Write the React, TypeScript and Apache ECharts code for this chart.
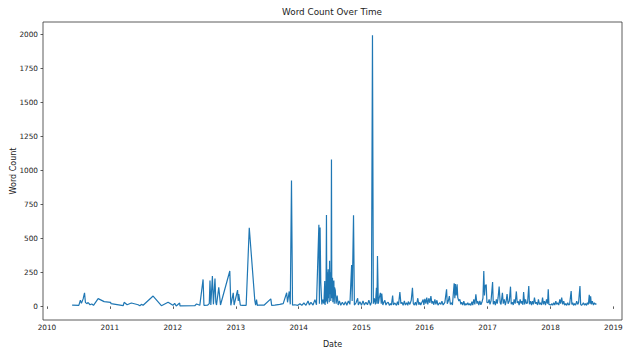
import React, { useEffect, useRef } from 'react';
import * as echarts from 'echarts';

const dates: string[] = [
  '2010-05-27','2010-07-05','2010-07-14','2010-07-20','2010-07-30','2010-08-07','2010-08-12','2010-08-20','2010-08-28','2010-09-08','2010-09-18','2010-09-28','2010-10-25','2010-11-29',
  '2011-01-05','2011-01-08','2011-03-19','2011-03-25','2011-04-11','2011-05-06','2011-06-14','2011-06-24','2011-07-03','2011-07-13','2011-09-09','2011-10-27','2011-12-05',
  '2012-01-02','2012-01-12','2012-01-21','2012-02-10','2012-02-12','2012-05-08','2012-05-18','2012-06-06','2012-06-25','2012-06-30','2012-07-22','2012-07-31','2012-08-04','2012-08-09','2012-08-18','2012-08-24','2012-09-02','2012-09-07','2012-09-11','2012-09-24','2012-10-04','2012-11-27','2012-12-03','2012-12-17','2012-12-22',
  '2013-01-11','2013-01-15','2013-01-18','2013-01-27','2013-02-10','2013-03-02','2013-03-20','2013-04-21','2013-04-26','2013-05-01','2013-05-06','2013-05-16','2013-06-01','2013-06-15','2013-07-23','2013-07-28','2013-08-15','2013-09-13','2013-10-03','2013-10-23','2013-10-28','2013-11-07','2013-11-13','2013-11-20','2013-11-26','2013-12-09','2013-12-27',
  '2014-01-08','2014-01-19','2014-01-31','2014-02-12','2014-02-24','2014-03-04','2014-03-13','2014-03-25','2014-04-05','2014-04-14','2014-04-28','2014-05-01','2014-05-05','2014-05-09','2014-05-15','2014-05-21','2014-05-27','2014-05-30','2014-06-01','2014-06-03','2014-06-05','2014-06-08','2014-06-11','2014-06-13','2014-06-15','2014-06-17','2014-06-19','2014-06-21','2014-06-23','2014-06-25','2014-06-27','2014-06-29','2014-07-01','2014-07-04','2014-07-06','2014-07-08','2014-07-10','2014-07-12','2014-07-14','2014-07-16','2014-07-18','2014-07-21','2014-07-24','2014-07-26','2014-07-28','2014-08-01','2014-08-04','2014-08-06','2014-08-12','2014-08-18','2014-08-25','2014-09-02','2014-09-11','2014-09-20','2014-09-29','2014-10-07','2014-10-16','2014-10-25','2014-11-04','2014-11-07','2014-11-15','2014-11-20','2014-11-29','2014-12-09','2014-12-13','2014-12-22','2014-12-31',
  '2015-01-09','2015-01-17','2015-01-26','2015-02-04','2015-02-12','2015-02-21','2015-02-27','2015-03-05','2015-03-10','2015-03-16','2015-03-22','2015-03-28','2015-03-31','2015-04-03','2015-04-08','2015-04-13','2015-04-20','2015-04-25','2015-04-28','2015-05-04','2015-05-10','2015-05-16','2015-05-22','2015-05-28','2015-06-04','2015-06-11','2015-06-17','2015-06-23','2015-06-30','2015-07-04','2015-07-13','2015-07-22','2015-07-28','2015-08-03','2015-08-11','2015-08-17','2015-08-23','2015-08-30','2015-09-06','2015-09-12','2015-09-19','2015-09-26','2015-09-29','2015-10-08','2015-10-16','2015-10-23','2015-10-28','2015-11-03','2015-11-09','2015-11-15','2015-11-23','2015-11-29','2015-12-05','2015-12-10','2015-12-24','2015-12-28',
  '2016-01-03','2016-01-09','2016-01-14','2016-01-20','2016-01-26','2016-02-01','2016-02-07','2016-02-13','2016-02-18','2016-02-24','2016-03-01','2016-03-07','2016-03-13','2016-03-19','2016-03-30','2016-04-05','2016-04-11','2016-04-18','2016-04-28','2016-05-08','2016-05-12','2016-05-18','2016-05-24','2016-05-30','2016-06-05','2016-06-11','2016-06-21','2016-06-25','2016-06-28','2016-07-03','2016-07-08','2016-07-12','2016-07-18','2016-07-24','2016-07-30','2016-08-04','2016-08-10','2016-08-16','2016-08-22','2016-08-28','2016-09-02','2016-09-08','2016-09-14','2016-09-20','2016-09-26','2016-10-02','2016-10-07','2016-10-13','2016-10-19','2016-10-25','2016-10-31','2016-11-05','2016-11-11','2016-11-17','2016-11-23','2016-11-29','2016-12-05','2016-12-10','2016-12-14','2016-12-18','2016-12-24','2016-12-28',
  '2017-01-04','2017-01-10','2017-01-15','2017-01-21','2017-01-30','2017-02-03','2017-02-09','2017-02-15','2017-02-21','2017-02-26','2017-03-03','2017-03-09','2017-03-15','2017-03-20','2017-03-28','2017-04-02','2017-04-08','2017-04-14','2017-04-19','2017-04-24','2017-04-30','2017-05-07','2017-05-14','2017-05-18','2017-05-24','2017-05-30','2017-06-04','2017-06-10','2017-06-17','2017-06-22','2017-06-27','2017-07-03','2017-07-09','2017-07-15','2017-07-20','2017-07-25','2017-07-29','2017-08-04','2017-08-09','2017-08-15','2017-08-21','2017-08-28','2017-09-01','2017-09-07','2017-09-13','2017-09-18','2017-09-24','2017-09-30','2017-10-06','2017-10-12','2017-10-18','2017-10-23','2017-10-29','2017-11-04','2017-11-10','2017-11-16','2017-11-21','2017-11-27','2017-12-03','2017-12-09','2017-12-15','2017-12-19','2017-12-23',
  '2018-01-03','2018-01-09','2018-01-14','2018-01-20','2018-01-26','2018-02-01','2018-02-06','2018-02-12','2018-02-18','2018-02-24','2018-03-01','2018-03-07','2018-03-13','2018-03-19','2018-03-24','2018-03-30','2018-04-05','2018-04-11','2018-04-17','2018-04-22','2018-05-01','2018-05-05','2018-05-10','2018-05-15','2018-05-21','2018-05-27','2018-06-02','2018-06-08','2018-06-13','2018-06-21','2018-06-25','2018-06-30','2018-07-06','2018-07-11','2018-07-17','2018-07-23','2018-07-29','2018-08-03','2018-08-09','2018-08-14','2018-08-18','2018-08-22','2018-08-26','2018-09-01','2018-09-07','2018-09-13','2018-09-19','2018-09-25'
];

const wordCounts: number[] = [
  10,8,46,22,55,100,30,20,28,12,18,8,57,35,
  30,20,5,30,12,25,12,5,15,8,76,5,30,
  8,22,3,25,4,5,18,8,198,8,10,20,190,10,223,15,205,30,10,140,10,260,8,100,10,
  120,40,90,10,8,8,578,45,10,50,8,10,10,10,55,8,10,15,20,100,30,110,15,926,10,12,8,
  20,8,25,8,40,10,30,10,50,12,600,20,580,175,15,50,20,120,186,10,150,30,671,40,250,20,200,272,60,230,30,335,90,250,40,300,1080,60,180,210,30,170,190,20,140,120,60,20,80,10,40,8,30,10,35,8,40,15,304,40,669,10,25,60,10,35,8,
  40,10,30,12,45,8,30,1992,20,60,15,137,20,370,20,60,100,20,95,10,30,45,10,25,30,8,20,10,80,12,25,8,35,10,105,20,30,8,40,10,27,8,35,15,45,137,20,10,30,8,60,12,30,10,50,10,
  55,20,64,15,60,25,76,20,39,12,51,15,45,10,27,15,39,10,30,125,20,39,76,15,27,10,169,60,165,80,162,64,40,51,15,30,10,39,8,20,10,27,10,20,8,35,10,51,15,88,20,39,10,40,12,30,60,260,80,150,160,30,
  27,51,15,40,179,15,39,10,51,20,64,145,27,15,100,20,51,10,40,90,20,39,145,15,30,10,51,20,110,25,39,10,51,20,39,12,105,15,51,20,27,150,15,39,10,39,15,64,20,30,10,51,15,27,10,64,15,39,10,51,20,125,15,
  10,20,8,27,10,39,15,27,10,51,20,64,15,39,10,20,8,27,10,15,113,15,27,8,20,10,39,15,27,150,15,8,15,27,10,20,8,27,15,85,20,75,15,39,10,27,15,20
];

const yearLabels: string[] = ['2010', '2011', '2012', '2013', '2014', '2015', '2016', '2017', '2018', '2019'];
const yTickValues: number[] = [0, 250, 500, 750, 1000, 1250, 1500, 1750, 2000];

export default function App() {
  const ref = useRef<HTMLDivElement>(null);
  useEffect(() => {
    if (!ref.current) return;
    const chart = echarts.init(ref.current, null, { renderer: 'svg' });
    const font = 'DejaVu Sans';
    const text = '#222';
    const yearTs = yearLabels.map((y) => Date.UTC(Number(y), 0, 1));
    const seriesData = dates.map((d, i) => [Date.parse(d), wordCounts[i]]);
    chart.setOption({
      animation: false,
      graphic: [
        {
          type: 'text',
          x: 332,
          y: 12,
          style: {
            text: 'Word Count Over Time',
            textAlign: 'center',
            textVerticalAlign: 'middle',
            fontFamily: font,
            fontSize: 8.8,
            fill: text,
          },
        },
      ],
      grid: {
        left: 43,
        right: 1,
        top: 22,
        bottom: 31,
        show: true,
        borderColor: '#333',
        borderWidth: 0.8,
        backgroundColor: 'transparent',
        outerBoundsMode: 'none',
        containLabel: false,
      },
      xAxis: {
        type: 'value',
        min: Date.UTC(2009, 11, 9),
        max: Date.UTC(2019, 1, 20),
        splitLine: { show: false },
        axisLine: { show: false },
        axisTick: {
          show: true,
          length: 2.5,
          customValues: yearTs,
          lineStyle: { color: '#333', width: 0.8 },
        },
        axisLabel: {
          customValues: yearTs,
          formatter: (v: number) => {
            const idx = yearTs.indexOf(v);
            return idx >= 0 ? yearLabels[idx] : String(new Date(v).getUTCFullYear());
          },
          fontFamily: font,
          fontSize: 7.3,
          color: text,
          margin: 4,
          hideOverlap: false,
        },
        name: 'Date',
        nameLocation: 'middle',
        nameGap: 20,
        nameMoveOverlap: false,
        nameTextStyle: { fontFamily: font, fontSize: 8, color: text },
      },
      yAxis: {
        type: 'value',
        min: -100,
        max: 2090,
        splitLine: { show: false },
        axisLine: { show: false },
        axisTick: {
          show: true,
          length: 2.5,
          customValues: yTickValues,
          lineStyle: { color: '#333', width: 0.8 },
        },
        axisLabel: {
          customValues: yTickValues,
          formatter: (v: number) => String(v),
          fontFamily: font,
          fontSize: 7.3,
          color: text,
          margin: 5,
        },
        name: 'Word Count',
        nameLocation: 'middle',
        nameGap: 26,
        nameRotate: 90,
        nameMoveOverlap: false,
        nameTextStyle: { fontFamily: font, fontSize: 8, color: text },
      },
      series: [
        {
          type: 'line',
          data: seriesData,
          showSymbol: false,
          symbol: 'none',
          lineStyle: { color: '#1f77b4', width: 1.2 },
          itemStyle: { color: '#1f77b4' },
        },
      ],
    });
    return () => chart.dispose();
  }, []);
  return (
    <div
      ref={ref}
      style={{ position: 'fixed', left: 0, top: 0, width: 623, height: 351, background: '#fff' }}
    />
  );
}
